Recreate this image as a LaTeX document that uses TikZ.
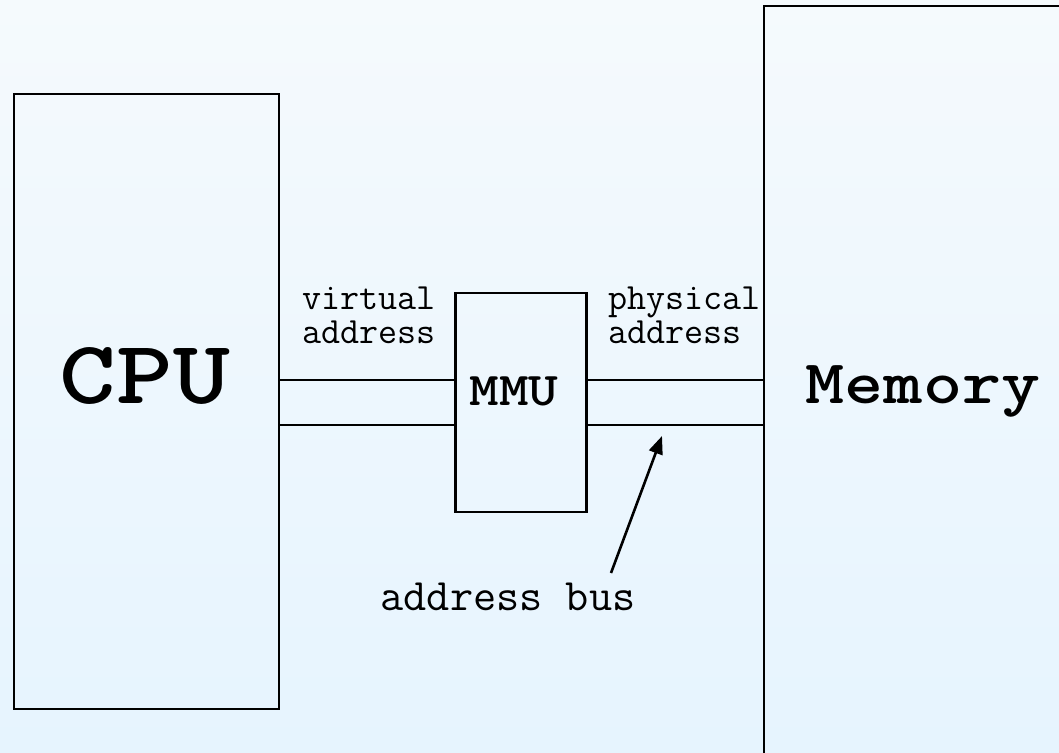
\documentclass[tikz,border=0pt]{standalone}
\usepackage{fontspec}
\newfontfamily\monobold{lmmonolt10-bold.otf}[FakeStretch=1.2]
\usetikzlibrary{arrows.meta}
\begin{document}
\begin{tikzpicture}[x=1pt,y=-1pt,
  unit/.style={draw=black,line width=2.8pt,fill=none,inner sep=0pt,outer sep=0pt},
  bus/.style={line width=2.6pt},
  pointer/.style={line width=2.6pt,-{Triangle[length=18pt,width=14pt]}},
  bigname/.style={font=\monobold\fontsize{90}{90}\selectfont,inner sep=0pt,anchor=base},
  midname/.style={font=\monobold\fontsize{62}{62}\selectfont,inner sep=0pt,anchor=base},
  mmuname/.style={font=\monobold\fontsize{47}{47}\selectfont,inner sep=0pt,anchor=base},
  note/.style={font=\ttfamily\fontsize{37}{37}\selectfont,inner sep=0pt,anchor=base west},
  buslabel/.style={font=\ttfamily\fontsize{45}{45}\selectfont,inner sep=0pt,anchor=base}]
  % background
  \shade[top color={rgb,255:red,245;green,250;blue,253},bottom color={rgb,255:red,230;green,244;blue,254}]
    (0,0) rectangle (1059,752);
  \useasboundingbox (0,0) rectangle (1059,752);

  % boxes
  \node[unit,minimum width=265pt,minimum height=615pt] (cpu) at (146.5,401.5) {};
  \node[unit,minimum width=131pt,minimum height=219pt] (mmu) at (521,402.5) {};
  \node[unit,minimum width=320pt,minimum height=780pt] (mem) at (924,396) {};

  % names
  \node[bigname] (cputext) at (145,403) {CPU};
  \node[midname] (memtext) at (923,403) {Memory};
  \node[mmuname] (mmutext) at (514,405) {MMU};

  % address bus
  \coordinate (upper) at (0,380);
  \coordinate (lower) at (0,425);
  \draw[bus] (cpu.east |- upper) -- (mmu.west |- upper);
  \draw[bus] (cpu.east |- lower) -- (mmu.west |- lower);
  \draw[bus] (mmu.east |- upper) -- (mem.west |- upper);
  \draw[bus] (mmu.east |- lower) -- (mem.west |- lower);

  % labels
  \node[note] (virt1) at (302,309) {virtual};
  \node[note] (virt2) at (302,343) {address};
  \node[note] (phys1) at (608,309) {physical};
  \node[note] (phys2) at (608,343) {address};
  \node[buslabel] (abus) at (508,610) {address bus};

  \coordinate (tail) at (611,573);
  \coordinate (tip) at (662,436);
  \draw[pointer] (tail) -- (tip);
\end{tikzpicture}
\end{document}
